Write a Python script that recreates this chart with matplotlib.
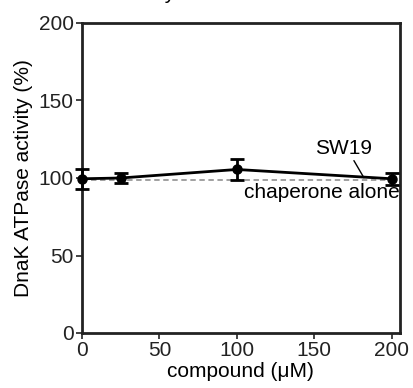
import numpy as np
import matplotlib.pyplot as plt

plt.rcParams['font.family'] = ['Liberation Sans', 'DejaVu Sans']

conc = [0, 25, 100, 200]
activity = [99.5, 100, 105.5, 99.5]
err = [6.3, 3, 6.8, 4]
ctrl_x = [0, 200]
ctrl_y = [99, 99]

fig = plt.figure(figsize=(4.13, 3.88), dpi=100)
ax = fig.add_axes([82 / 413, 1 - 333 / 388, 317.5 / 413, 310 / 388])

ax.plot(ctrl_x, ctrl_y, ls=(0, (3, 2)), color='#999999', lw=1.3, zorder=1)
ax.errorbar(conc, activity, yerr=err, color='black', lw=2, marker='o', ms=6.5,
            capsize=5, capthick=2, elinewidth=2, zorder=3, clip_on=False)

ax.set_xlim(0, 205)
ax.set_ylim(0, 200)
ax.set_xticks([0, 50, 100, 150, 200])
ax.set_yticks([0, 50, 100, 150, 200])
ax.tick_params(direction='out', length=4, width=1.2, labelsize=15, pad=2,
               colors='#222222')
for s in ax.spines.values():
    s.set_linewidth(2)
    s.set_color('#222222')

ax.set_xlabel('compound (\u03bcM)', fontsize=15, labelpad=1)
ax.set_ylabel('DnaK ATPase activity (%)', fontsize=15, labelpad=4)

ax.annotate('SW19', xy=(182, 100.2), xytext=(169, 113), fontsize=15,
            ha='center', va='bottom',
            arrowprops=dict(arrowstyle='-', color='black', lw=1,
                            shrinkA=0, shrinkB=0, relpos=(0.65, 0)))
ax.text(205, 90.5, 'chaperone alone', fontsize=15, ha='right', va='center')

fig.text(176 / 413, 1 + 1 / 388, 'Activity', fontsize=15, ha='right',
         va='baseline')

fig.savefig('out.png', dpi=100)
